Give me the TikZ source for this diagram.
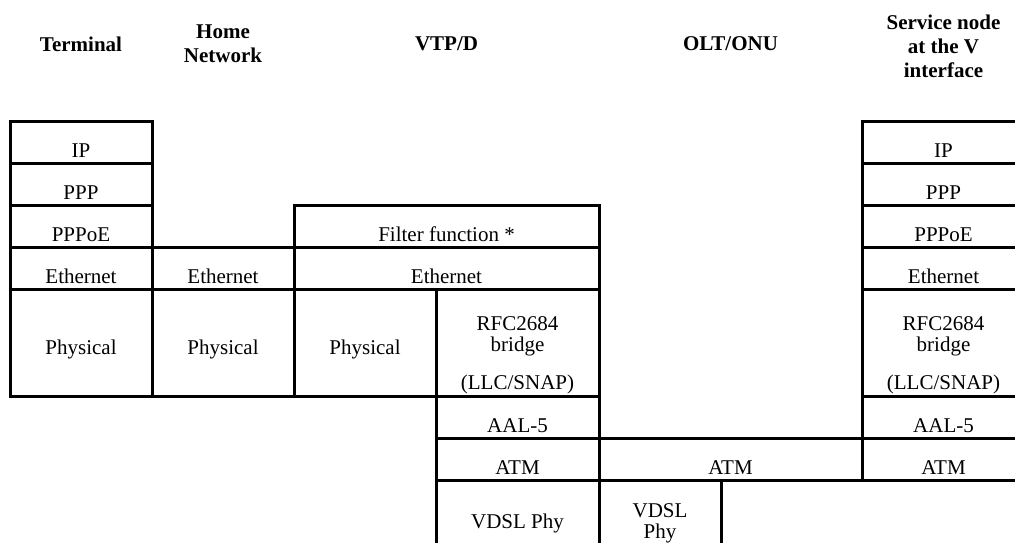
\documentclass[tikz,border=0pt]{standalone}
\usepackage{fontspec}
\setmainfont{Liberation Serif}
\usetikzlibrary{positioning}
\newcommand{\cellfont}{\fontsize{21}{25}\selectfont}
\newcommand{\hdrfont}{\fontsize{21}{24}\selectfont\bfseries}
\newcommand{\rfcstack}{\begin{tabular}[b]{@{}c@{}}RFC2684\\[-4pt] bridge\\[13pt] (LLC/SNAP)\end{tabular}}
\tikzset{
  layer/.style={draw, line width=3pt, outer sep=0pt, inner sep=0pt, minimum width=142pt, minimum height=42pt, text height=30pt, text depth=0pt, font=\cellfont},
  tall/.style={minimum height=107pt, text height=24pt},
  low/.style={minimum height=66pt},
  wd/.style={minimum width=#1},
  hdr/.style={font=\hdrfont, align=center}
}

\begin{document}
\begin{tikzpicture}[x=1pt, y=-1pt]
\useasboundingbox (0,0) rectangle (1015,542);
% terminal
\node[layer, anchor=north west] (t-ip) at (10,121) {IP};
\node[layer, below=0pt of t-ip] (t-ppp) {PPP};
\node[layer, below=0pt of t-ppp] (t-pppoe) {PPPoE};
\node[layer, below=0pt of t-pppoe] (t-eth) {Ethernet};
\node[layer, tall, below=0pt of t-eth] (t-phy) {Physical};
% home network
\node[layer, right=0pt of t-eth] (h-eth) {Ethernet};
\node[layer, tall, right=0pt of t-phy] (h-phy) {Physical};
% VTP/D
\node[layer, wd=305pt, right=0pt of h-eth] (v-eth) {Ethernet};
\node[layer, wd=305pt, above=0pt of v-eth] (v-filter) {Filter function *};
\node[layer, tall, right=0pt of h-phy] (v-phy) {Physical};
\node[layer, tall, wd=163pt, right=0pt of v-phy, text height=93pt] (v-rfc) {\rfcstack};
\node[layer, wd=163pt, below=0pt of v-rfc] (v-aal) {AAL-5};
\node[layer, wd=163pt, below=0pt of v-aal] (v-atm) {ATM};
\node[layer, low, wd=163pt, below=0pt of v-atm] (v-vdsl) {VDSL Phy};
% OLT/ONU
\node[layer, wd=263pt, right=0pt of v-atm] (o-atm) {ATM};
\node[layer, low, wd=122pt, anchor=north west, text height=51pt] (o-vdsl) at (o-atm.south west)
  {\begin{tabular}[b]{@{}c@{}}VDSL\\[-4pt] Phy\end{tabular}};
% service node
\node[layer, wd=163pt, right=0pt of o-atm] (s-atm) {ATM};
\node[layer, wd=163pt, above=0pt of s-atm] (s-aal) {AAL-5};
\node[layer, tall, wd=163pt, above=0pt of s-aal, text height=93pt] (s-rfc) {\rfcstack};
\node[layer, wd=163pt, above=0pt of s-rfc] (s-eth) {Ethernet};
\node[layer, wd=163pt, above=0pt of s-eth] (s-pppoe) {PPPoE};
\node[layer, wd=163pt, above=0pt of s-pppoe] (s-ppp) {PPP};
\node[layer, wd=163pt, above=0pt of s-ppp] (s-ip) {IP};
% column heads
\node[hdr] (hd-term) at (t-ip |- 0,44) {Terminal};
\node[hdr] (hd-home) at (h-eth |- 0,44) {Home\\Network};
\node[hdr] (hd-vtp) at (v-eth |- 0,44) {VTP/D};
\node[hdr] (hd-olt) at (o-atm |- 0,44) {OLT/ONU};
\node[hdr] (hd-sn) at (s-ip |- 0,46) {Service node\\at the V\\interface};
\end{tikzpicture}
\end{document}
